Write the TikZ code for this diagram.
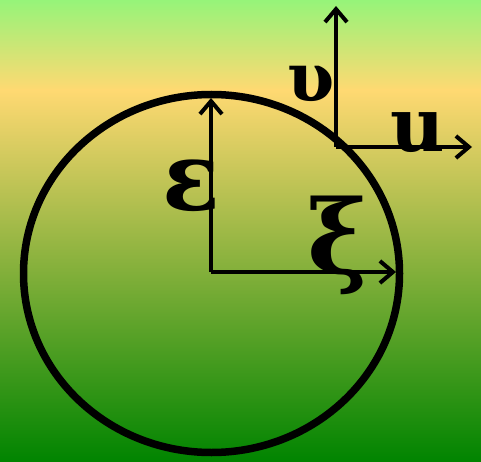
\documentclass[tikz,border=0pt]{standalone}
\usepackage{fontspec}
\setmainfont{DejaVu Serif}
\usetikzlibrary{arrows.meta}

\definecolor{bgtop}{HTML}{96F479}
\definecolor{bgsand}{HTML}{FFD972}
\definecolor{bgbot}{HTML}{008400}

\begin{document}
\begin{tikzpicture}[
  x=1pt, y=-1pt,
  axis/.style={line width=4pt, -{Straight Barb[length=13pt, width=22pt]}},
  rim/.style={line width=7.5pt},
  sym/.style={inner sep=0pt, font=\fontsize{#1}{#1}\selectfont\bfseries}
]

% Background
\useasboundingbox (0,0) rectangle (481,462);
\shade[top color=bgtop, bottom color=bgsand] (0,0) rectangle (481,90.5);
\shade[top color=bgsand, bottom color=bgbot] (0,90) rectangle (481,462);

% Points
\coordinate (c) at (211.5,273.5);
\coordinate (o) at (211,272);
\coordinate (otop) at (211,98);
\coordinate (oright) at (396,272);
\coordinate (p) at (336,147);
\coordinate (ptop) at (336,6);
\coordinate (pright) at (472,147);

% Circle
\draw[rim] (c) ellipse [x radius=188, y radius=179];

% Axes
\draw[axis] (o) -- (otop);
\draw[axis] (o) -- (oright);
\draw[axis] (p) -- (ptop);
\draw[axis] (p) -- (pright);

% Labels
\node[sym=95] (eps) at (191,185.5) {ε};
\node[sym=102] (xi) at (338,245.5) {ξ};
\node[sym=68] (ups) at (311.5,83.5) {υ};
\node[sym=75] (u) at (417.5,132.5) {u};

\end{tikzpicture}
\end{document}
